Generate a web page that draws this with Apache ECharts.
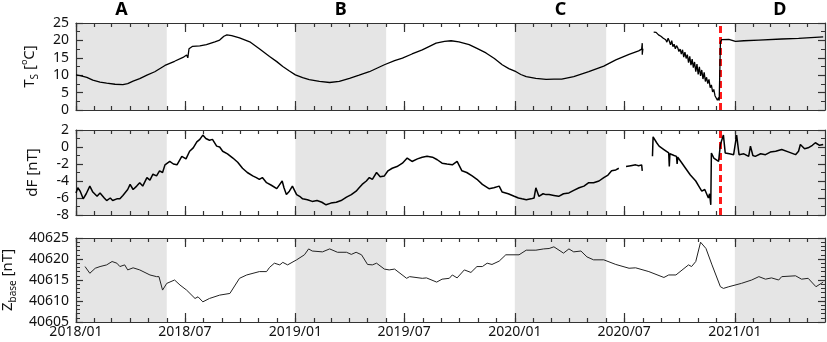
<!DOCTYPE html>
<html><head><meta charset="utf-8">
<script src="https://cdn.jsdelivr.net/npm/echarts@6/dist/echarts.min.js"></script>
<style>html,body{margin:0;padding:0;background:#fff}#c{width:827px;height:342px}</style>
</head><body><div id="c"></div>
<script>
// ---------- DATA ----------
const tickLabels = ['2018/01','2018/07','2019/01','2019/07','2020/01','2020/07','2021/01'];
const shadeStarts = ['2018-01-01','2019-01-01','2020-01-01','2021-01-01'];
const shadeEnds   = ['2018-06-01','2019-06-01','2020-06-01','2021-05-31'];
const shadeLabels = ['A','B','C','D'];
const eventDate = '2020-12-07';

const tsDates = ['2018-01-01','2018-01-08','2018-01-19','2018-01-29','2018-02-10','2018-02-21','2018-03-07','2018-03-20','2018-03-28','2018-04-06','2018-04-17','2018-04-29','2018-05-12','2018-05-29','2018-06-14','2018-06-28','2018-07-04','2018-07-06','2018-07-08','2018-07-14','2018-07-26','2018-08-06','2018-08-20','2018-08-28','2018-09-04','2018-09-09','2018-09-17','2018-09-30','2018-10-17','2018-11-02','2018-11-19','2018-12-01','2018-12-11','2018-12-22',
'2019-01-01','2019-01-13','2019-01-24','2019-02-10','2019-02-27','2019-03-15','2019-04-01','2019-04-17','2019-05-04','2019-05-29','2019-06-15','2019-06-28','2019-07-14','2019-07-31','2019-08-12','2019-08-23','2019-09-06','2019-09-17','2019-09-30','2019-10-17','2019-10-30','2019-11-14','2019-11-28','2019-12-11','2019-12-22',
'2020-01-03','2020-01-11','2020-01-20','2020-02-05','2020-02-22','2020-03-06','2020-03-19','2020-04-08','2020-05-03','2020-05-28','2020-06-17','2020-07-09','2020-07-25','2020-07-30','2020-07-31','2020-07-31','2020-08-01','2020-08-10',
'2020-08-19','2020-08-21','2020-08-23','2020-08-25','2020-08-27','2020-08-29','2020-08-31','2020-09-02','2020-09-04','2020-09-06','2020-09-08','2020-09-10','2020-09-12','2020-09-14','2020-09-16','2020-09-18','2020-09-20','2020-09-22','2020-09-24','2020-09-26','2020-09-28','2020-09-30',
'2020-10-02','2020-10-04','2020-10-06','2020-10-08','2020-10-10','2020-10-12','2020-10-14','2020-10-16','2020-10-18','2020-10-20','2020-10-22','2020-10-24','2020-10-26','2020-10-28','2020-10-30',
'2020-11-01','2020-11-03','2020-11-05','2020-11-07','2020-11-09','2020-11-11','2020-11-13','2020-11-15','2020-11-17','2020-11-19','2020-11-21','2020-11-23','2020-11-25','2020-11-27','2020-11-29','2020-12-01','2020-12-03','2020-12-05','2020-12-06',
'2020-12-08','2020-12-10','2020-12-22','2021-01-02','2021-01-16','2021-02-10','2021-03-20','2021-04-17','2021-05-28'];
const tsValues = [10.1,9.9,9.4,8.6,8.0,7.7,7.4,7.3,7.6,8.3,9.0,10.0,11.0,12.8,14.0,15.1,15.8,15.0,17.6,18.3,18.4,18.8,19.6,20.1,21.2,21.6,21.4,20.7,19.6,17.6,15.4,13.9,12.5,11.2,
10.1,9.3,8.7,8.2,7.9,8.2,9.1,10.0,11.0,13.0,14.2,14.9,16.1,17.3,18.3,19.2,19.7,19.9,19.6,18.8,17.7,16.4,14.8,13.0,11.9,
11.0,10.2,9.6,9.1,8.8,8.9,8.9,9.6,11.0,12.6,14.4,16.0,17.0,17.5,19.2,15.9,17.6,null,
22.4,22.1,22.3,21.9,21.6,22.0,21.2,21.5,20.6,21.1,20.2,19.5,20.6,19.8,18.7,19.9,18.2,18.9,17.6,18.5,17.9,16.8,
17.5,16.1,17.3,15.2,16.6,14.8,15.9,13.6,15.4,12.9,14.6,12.2,13.8,11.0,13.2,
10.2,12.4,9.8,11.5,8.9,10.8,8.2,9.4,7.6,8.8,6.4,7.2,5.2,5.9,4.1,4.6,2.8,3.6,2.7,
19.5,20.2,20.3,19.7,19.9,20.1,20.4,20.6,21.0];

const dfDates = ['2018-01-01','2018-01-04','2018-01-08','2018-01-13','2018-01-18','2018-01-24','2018-01-29','2018-02-05','2018-02-10','2018-02-17','2018-02-21','2018-02-27','2018-03-03','2018-03-10','2018-03-15','2018-03-20','2018-03-23','2018-03-28','2018-04-01','2018-04-06','2018-04-12','2018-04-17','2018-04-22','2018-04-29','2018-05-04','2018-05-09','2018-05-15','2018-05-20','2018-05-25','2018-05-29','2018-06-06','2018-06-12','2018-06-18','2018-06-26','2018-07-03','2018-07-09','2018-07-15','2018-07-21','2018-07-26','2018-07-31','2018-08-05','2018-08-11','2018-08-16','2018-08-23','2018-08-28','2018-09-02','2018-09-10','2018-09-19','2018-09-27','2018-10-05','2018-10-13','2018-10-22','2018-10-28','2018-11-02','2018-11-07','2018-11-14','2018-11-22','2018-12-01','2018-12-06','2018-12-10','2018-12-13','2018-12-17','2018-12-22','2018-12-27',
'2019-01-03','2019-01-08','2019-01-13','2019-01-21','2019-01-29','2019-02-06','2019-02-14','2019-02-21','2019-03-01','2019-03-10','2019-03-18','2019-03-27','2019-04-04','2019-04-12','2019-04-17','2019-04-22','2019-04-29','2019-05-04','2019-05-09','2019-05-16','2019-05-22','2019-05-29','2019-06-04','2019-06-11','2019-06-19','2019-06-28','2019-07-06','2019-07-14','2019-07-23','2019-07-31','2019-08-08','2019-08-17','2019-08-25','2019-09-02','2019-09-10','2019-09-19','2019-09-27','2019-10-05','2019-10-13','2019-10-22','2019-10-30','2019-11-08','2019-11-19','2019-11-27','2019-12-06','2019-12-11','2019-12-21','2019-12-31',
'2020-01-07','2020-01-13','2020-01-20','2020-01-28','2020-02-02','2020-02-05','2020-02-10','2020-02-17','2020-02-22','2020-02-27','2020-03-06','2020-03-14','2020-03-22','2020-03-31','2020-04-08','2020-04-17','2020-04-25','2020-05-03','2020-05-11','2020-05-20','2020-05-28','2020-06-04','2020-06-10','2020-06-17','2020-06-22','2020-06-28','2020-07-04','2020-07-12','2020-07-20','2020-07-25','2020-07-30','2020-07-31','2020-08-08',
'2020-08-17','2020-08-18','2020-08-24','2020-08-28','2020-09-05','2020-09-13','2020-09-14','2020-09-15','2020-09-22','2020-09-26','2020-09-27','2020-09-28','2020-10-04','2020-10-11','2020-10-19','2020-10-28','2020-11-02','2020-11-07','2020-11-12','2020-11-18','2020-11-20','2020-11-22','2020-11-23','2020-11-27','2020-11-30','2020-12-05','2020-12-08','2020-12-10','2020-12-13','2020-12-16','2020-12-23','2020-12-30',
'2021-01-04','2021-01-08','2021-01-16','2021-01-24','2021-01-27','2021-01-31','2021-02-04','2021-02-13','2021-02-21','2021-03-01','2021-03-10','2021-03-20','2021-04-01','2021-04-12','2021-04-17','2021-04-20','2021-04-27','2021-05-03','2021-05-10','2021-05-15','2021-05-22','2021-05-28'];
const dfValues = [-5.4,-4.8,-5.2,-6.1,-5.5,-4.6,-5.3,-5.8,-5.4,-6.0,-6.3,-6.0,-6.3,-6.1,-6.1,-5.7,-5.8,-5.0,-4.4,-5.0,-4.6,-4.2,-4.6,-3.6,-3.9,-3.2,-3.4,-2.8,-3.0,-2.1,-1.7,-2.0,-2.1,-1.1,-1.4,-0.5,-0.1,0.6,0.9,1.4,1.0,0.8,0.9,0.1,0.0,-0.5,-0.8,-1.3,-1.8,-2.5,-3.0,-3.4,-3.6,-3.8,-3.6,-4.2,-4.5,-4.9,-4.4,-4.0,-4.8,-5.6,-5.2,-4.6,
-5.6,-5.8,-6.1,-6.2,-6.4,-6.3,-6.5,-6.8,-6.6,-6.5,-6.3,-5.9,-5.6,-5.2,-4.8,-4.4,-4.0,-3.6,-3.8,-3.0,-3.5,-3.4,-2.8,-2.5,-2.3,-1.9,-1.3,-1.7,-1.4,-1.2,-1.1,-1.2,-1.5,-1.9,-2.0,-2.1,-1.7,-2.8,-3.0,-3.4,-3.8,-4.4,-4.9,-4.8,-4.6,-5.3,-5.5,-5.8,
-6.0,-6.1,-6.2,-6.1,-6.0,-4.8,-5.8,-5.5,-5.6,-5.6,-5.7,-5.8,-5.5,-5.4,-5.1,-4.8,-4.6,-4.2,-4.2,-4.0,-3.6,-3.3,-2.8,-2.7,-2.5,null,-2.3,-2.2,-2.1,-2.2,-2.1,-2.8,null,
-1.1,1.2,0.5,0.1,-0.3,-0.7,-2.3,-0.8,-1.0,-1.1,-2.0,-1.2,-1.8,-2.5,-3.3,-4.0,-4.6,-5.2,-5.0,-6.0,-5.5,-6.8,-0.7,-1.3,-1.5,-1.7,0.3,0.1,1.4,-0.7,-0.8,-0.9,
1.4,-0.9,-0.8,-1.1,0.1,-1.0,-1.1,-0.8,-0.9,-0.6,-0.5,-0.3,-0.6,-0.9,-0.5,0.3,-0.2,-0.1,0.2,0.5,0.2,0.3];

const zDates = ['2018-01-16','2018-01-24','2018-02-02','2018-02-10','2018-02-21','2018-03-02','2018-03-10','2018-03-15','2018-03-23','2018-03-28','2018-04-06','2018-04-17','2018-05-04','2018-05-15','2018-05-19','2018-05-25','2018-06-01','2018-06-14','2018-06-23','2018-07-04','2018-07-18','2018-07-23','2018-07-31','2018-08-11','2018-08-28','2018-09-14','2018-09-30','2018-10-12','2018-11-02','2018-11-14','2018-11-19','2018-11-27','2018-12-06','2018-12-11','2018-12-19',
'2019-01-03','2019-01-16','2019-01-23','2019-01-29','2019-02-15','2019-02-27','2019-03-12','2019-03-27','2019-04-04','2019-04-12','2019-04-21','2019-05-01','2019-05-09','2019-05-16','2019-05-29','2019-06-06','2019-06-15','2019-07-05','2019-07-10','2019-07-31','2019-08-07','2019-08-24','2019-09-02','2019-09-14','2019-09-19','2019-09-27','2019-10-09','2019-10-20','2019-10-30','2019-11-08','2019-11-16','2019-11-24','2019-12-06','2019-12-17',
'2020-01-08','2020-01-20','2020-02-05','2020-02-18','2020-02-27','2020-03-06','2020-03-22','2020-03-31','2020-04-08','2020-04-20','2020-04-30','2020-05-11','2020-05-28','2020-06-17','2020-07-09','2020-07-20','2020-08-11','2020-09-05','2020-09-13','2020-09-25','2020-10-16','2020-10-21','2020-10-28','2020-11-05','2020-11-07','2020-11-14','2020-11-24','2020-12-08','2020-12-13','2020-12-22',
'2021-01-12','2021-01-29','2021-02-10','2021-02-21','2021-03-03','2021-03-15','2021-03-20','2021-04-12','2021-04-22','2021-05-03','2021-05-16','2021-05-28'];
const zValues = [40618.2,40616.6,40617.8,40618.2,40618.6,40619.4,40619.0,40618.2,40618.6,40617.4,40617.9,40617.4,40616.2,40615.8,40615.8,40612.6,40614.2,40615.0,40613.8,40612.6,40610.6,40611.0,40609.8,40610.6,40611.4,40611.8,40615.4,40616.2,40617.0,40617.0,40618.0,40619.0,40618.6,40619.2,40618.6,
40619.8,40621.0,40622.4,40621.9,40621.7,40622.4,40621.6,40621.6,40621.1,40621.6,40621.0,40618.7,40618.6,40619.0,40617.6,40617.4,40617.6,40615.4,40615.8,40615.4,40615.5,40614.5,40615.2,40615.4,40616.2,40615.5,40617.4,40616.8,40618.2,40618.2,40619.0,40618.7,40619.5,40621.0,
40621.0,40622.1,40622.1,40622.4,40622.5,40622.9,40621.4,40622.4,40621.7,40621.9,40620.5,40619.8,40619.8,40618.7,40617.8,40617.9,40617.0,40615.6,40616.2,40616.2,40618.6,40618.2,40619.4,40624.0,40624.1,40622.5,40618.6,40613.4,40613.0,40613.4,
40614.2,40615.0,40615.8,40615.2,40615.5,40615.0,40615.8,40616.0,40615.2,40615.4,40613.4,40614.5];

// ---------- HELPERS ----------
const P = s => { const [y,m,d] = s.split('-').map(Number); return Date.UTC(y, m-1, d); };
const mk = (dates, vals) => dates.map((d,i) => [P(d), vals[i] === null ? '-' : vals[i]]);
const xMin = P('2018-01-01'), xMax = P('2021-05-31');
const monthTicks = [];
for (let y = 2018; y <= 2021; y++) for (let m = 0; m < 12; m++) { const t = Date.UTC(y, m, 1); if (t >= xMin && t <= xMax) monthTicks.push(t); }
const majorTicks = tickLabels.map(s => { const [y,m] = s.split('/').map(Number); return Date.UTC(y, m-1, 1); });
const fmt = v => { const d = new Date(v); return d.getUTCFullYear() + '/' + String(d.getUTCMonth()+1).padStart(2,'0'); };

const FONT = 'Noto Sans';
const AX = '#333';
const AZ = 3; // axes above the shading
const GRIDS = [{top:23,height:87},{top:130,height:85},{top:238,height:84}];

const xAxis = [];
GRIDS.forEach((g, i) => {
  ['bottom','top'].forEach(pos => {
    // monthly minor ticks + frame line
    xAxis.push({type:'value', gridIndex:i, position:pos, min:xMin, max:xMax, z:AZ,
      axisLine:{show:true, onZero:false, lineStyle:{color:AX, width:1.2}},
      axisTick:{show:true, inside:true, length:4, customValues:monthTicks, lineStyle:{color:AX, width:1.2}},
      axisLabel:{show:false}, splitLine:{show:false}});
    // half-year major ticks + labels
    xAxis.push({type:'value', gridIndex:i, position:pos, min:xMin, max:xMax, z:AZ,
      axisLine:{show:false, onZero:false},
      axisTick:{show:true, inside:true, length:9, customValues:majorTicks, lineStyle:{color:AX, width:1.2}},
      axisLabel:{show: i === 2 && pos === 'bottom', customValues:majorTicks, formatter:fmt, fontFamily:FONT, fontSize:14, color:'#111', margin:3},
      splitLine:{show:false}});
  });
});

const nameRich = {
  t:{fontFamily:FONT, fontSize:15, color:'#111', lineHeight:20},
  s:{fontFamily:FONT, fontSize:10, color:'#111', verticalAlign:'bottom', lineHeight:12},
  o:{fontFamily:FONT, fontSize:9, color:'#111', verticalAlign:'top', lineHeight:12}
};
const YS = [
  {min:0, max:25, interval:5, minor:2, name:'{t|T}{s|S}{t| [}{o|o}{t|C]}', gap:36},
  {min:-8, max:2, interval:2, minor:2, name:'{t|dF [nT]}', gap:33},
  {min:40605, max:40625, interval:5, minor:5, name:'{t|Z}{s|base}{t| [nT]}', gap:54}
];
const yAxis = [];
YS.forEach((c, i) => {
  ['left','right'].forEach(pos => {
    yAxis.push({type:'value', gridIndex:i, position:pos, min:c.min, max:c.max, interval:c.interval, z:AZ,
      axisLine:{show:true, onZero:false, lineStyle:{color:AX, width:1.2}},
      axisTick:{show:true, inside:true, length:7, lineStyle:{color:AX, width:1.2}},
      minorTick:{show:true, splitNumber:c.minor, length:4, lineStyle:{color:AX, width:1}},
      axisLabel:{show: pos === 'left', formatter: v => String(v), fontFamily:FONT, fontSize:14, color:'#111', margin:7},
      splitLine:{show:false}, minorSplitLine:{show:false},
      name: pos === 'left' ? c.name : '', nameLocation:'middle', nameGap:c.gap, nameRotate:90,
      nameTextStyle:{rich:nameRich}});
  });
});

const areas = shadeStarts.map((s,k) => [{name:shadeLabels[k], xAxis:P(s)}, {xAxis:P(shadeEnds[k])}]);
const shadeSeries = (i, showLbl) => ({type:'line', xAxisIndex:i*4, yAxisIndex:i*2, data:[], z:1, silent:true,
  markArea:{silent:true, itemStyle:{color:'#e5e5e5'},
    label:{show:showLbl, position:'top', distance:4, fontFamily:FONT, fontSize:18, fontWeight:'bold', color:'#000'},
    data: areas}});
const markLine = {silent:true, symbol:'none', animation:false,
  lineStyle:{color:'#ff1a1a', width:3, type:[7,4]}, label:{show:false},
  data:[{xAxis:P(eventDate)}]};

const option = {
  animation:false,
  grid: GRIDS.map(g => ({left:76, right:2, top:g.top, height:g.height, outerBoundsMode:'none'})),
  xAxis, yAxis,
  series: [
    shadeSeries(0, true), shadeSeries(1, false), shadeSeries(2, false),
    {type:'line', z:5, xAxisIndex:0, yAxisIndex:0, data:mk(tsDates, tsValues), symbol:'none', lineStyle:{color:'#000', width:1.3}, markLine},
    {type:'line', z:5, xAxisIndex:4, yAxisIndex:2, data:mk(dfDates, dfValues), symbol:'none', lineStyle:{color:'#000', width:1.5}, markLine},
    {type:'line', z:5, xAxisIndex:8, yAxisIndex:4, data:mk(zDates, zValues), symbol:'none', lineStyle:{color:'#222', width:1}}
  ]
};
const chart = echarts.init(document.getElementById('c'), null, {renderer:'canvas'});
chart.setOption(option);
</script></body></html>
